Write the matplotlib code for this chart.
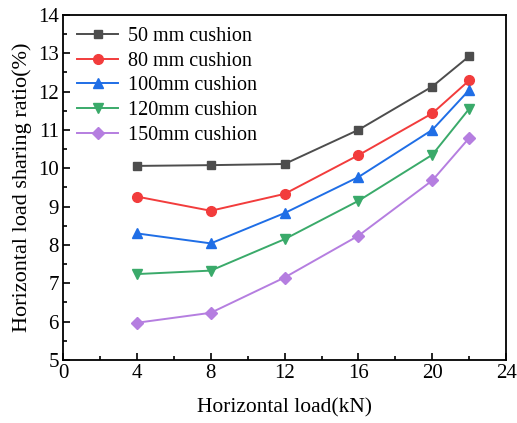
import matplotlib.pyplot as plt
from matplotlib.ticker import MultipleLocator

plt.rcParams['font.family'] = ['Liberation Serif', 'DejaVu Serif']

loads = [4, 8, 12, 16, 20, 22]
cushion_50 = [10.06, 10.08, 10.11, 11.0, 12.13, 12.92]
cushion_80 = [9.26, 8.89, 9.33, 10.34, 11.43, 12.29]
cushion_100 = [8.30, 8.04, 8.83, 9.77, 11.0, 12.04]
cushion_120 = [7.24, 7.33, 8.15, 9.15, 10.35, 11.55]
cushion_150 = [5.97, 6.23, 7.15, 8.24, 9.68, 10.79]
labels = ['50 mm cushion', '80 mm cushion', '100mm cushion', '120mm cushion', '150mm cushion']

series = [cushion_50, cushion_80, cushion_100, cushion_120, cushion_150]
colors = ['#4d4d4d', '#f23c3c', '#1f6ee6', '#3aaa6a', '#b57ee0']
markers = ['s', 'o', '^', 'v', 'D']
msizes = [6, 7, 7, 7, 6]

fig = plt.figure(figsize=(5.17, 4.23), dpi=100)
ax = fig.add_axes([0.122, 0.149, 0.857, 0.816])

for vals, lab, c, m, ms in zip(series, labels, colors, markers, msizes):
    ax.plot(loads, vals, color=c, marker=m, markersize=ms, linewidth=1.4, label=lab)

ax.set_xlim(0, 24)
ax.set_ylim(5, 14)
ax.xaxis.set_major_locator(MultipleLocator(4))
ax.xaxis.set_minor_locator(MultipleLocator(2))
ax.yaxis.set_major_locator(MultipleLocator(1))
ax.yaxis.set_minor_locator(MultipleLocator(0.5))
ax.tick_params(which='both', direction='in', labelsize=15, width=1.2, pad=3)
ax.tick_params(which='major', length=5)
ax.tick_params(which='minor', length=3)
for s in ax.spines.values():
    s.set_linewidth(1.3)

ax.set_xlabel('Horizontal load(kN)', fontsize=15.5, labelpad=11)
ax.set_ylabel('Horizontal load sharing ratio(%)', fontsize=16, labelpad=4)

ax.legend(loc='upper left', frameon=False, fontsize=14.5, handlelength=2.0,
          handletextpad=0.5, labelspacing=0.28, borderaxespad=0.2,
          bbox_to_anchor=(0.005, 1.0))

fig.savefig('out.png', dpi=100)
